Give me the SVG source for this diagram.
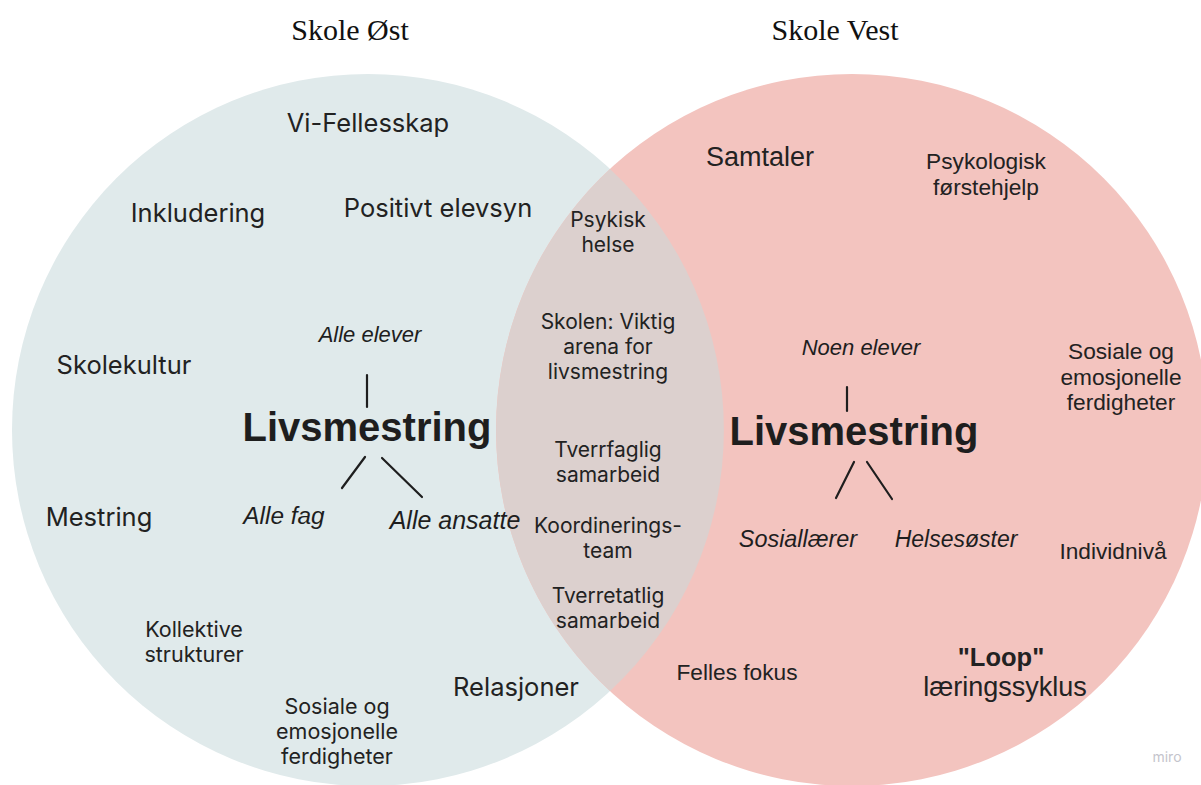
<svg xmlns="http://www.w3.org/2000/svg" width="1201" height="785" viewBox="0 0 1201 785">
<style>
.t{font-family:"Liberation Sans",Arial,sans-serif;fill:#222;text-anchor:middle}
.i{font-family:Inter,"Liberation Sans",sans-serif;fill:#222;text-anchor:middle}
.h{font-family:"Liberation Sans",Arial,sans-serif;font-style:italic;fill:#1e1e1e;text-anchor:middle;font-size:22px}
.b{font-family:"Liberation Sans",Arial,sans-serif;font-weight:bold;fill:#1e1e1e;text-anchor:middle;font-size:40px}
.ttl{font-family:"Liberation Serif","Times New Roman",serif;fill:#111;text-anchor:middle;font-size:30px}
.s25{font-size:25.5px}.s21{font-size:21px}.s215{font-size:21.5px}.r23{font-size:22.7px}.r27{font-size:27px}
.ln{stroke:#1e1e1e;stroke-width:2.2;fill:none;stroke-linecap:round}
</style>
<rect width="1201" height="785" fill="#fff"/>
<g id="circles">
<circle id="ost" cx="368" cy="430" r="356" fill="#e0eaeb"/>
<circle id="vest" cx="852" cy="430" r="356" fill="#f3c4bf"/>
<path id="overlap" d="M610,169 A356,356 0 0 1 610,691 A356,356 0 0 1 610,169 Z" fill="#dcd0ce"/>
</g>
<g id="titles">
<text class="ttl" x="350" y="40">Skole Øst</text>
<text class="ttl" x="835" y="40">Skole Vest</text>
</g>
<g id="ost-words">
<text class="i s25" x="368" y="132">Vi-Fellesskap</text>
<text class="i s25" x="198" y="222">Inkludering</text>
<text class="i s25" x="438" y="217">Positivt elevsyn</text>
<text class="i s25" x="124" y="374">Skolekultur</text>
<text class="i s25" x="99" y="526">Mestring</text>
<text class="i s215" x="194" y="637">Kollektive</text>
<text class="i s215" x="194" y="662">strukturer</text>
<text class="i s215" x="337" y="714">Sosiale og</text>
<text class="i s215" x="337" y="739">emosjonelle</text>
<text class="i s215" x="337" y="764">ferdigheter</text>
<text class="i s25" x="516" y="696">Relasjoner</text>
</g>
<g id="ost-center">
<text class="h" x="370" y="342">Alle elever</text>
<text class="b" x="367" y="441">Livsmestring</text>
<text class="h" x="284" y="524" style="font-size:24.4px">Alle fag</text>
<text class="h" x="455" y="529" style="font-size:25px">Alle ansatte</text>
</g>
<g id="overlap-words">
<text class="i s21" x="608" y="227">Psykisk</text>
<text class="i s21" x="608" y="252">helse</text>
<text class="i s21" x="608" y="329">Skolen: Viktig</text>
<text class="i s21" x="608" y="354">arena for</text>
<text class="i s21" x="608" y="379">livsmestring</text>
<text class="i s21" x="608" y="457">Tverrfaglig</text>
<text class="i s21" x="608" y="482">samarbeid</text>
<text class="i s21" x="608" y="533">Koordinerings-</text>
<text class="i s21" x="608" y="558">team</text>
<text class="i s21" x="608" y="603">Tverretatlig</text>
<text class="i s21" x="608" y="628">samarbeid</text>
</g>
<g id="vest-words">
<text class="t r27" x="760" y="166">Samtaler</text>
<text class="t r23" x="986" y="169">Psykologisk</text>
<text class="t r23" x="986" y="195">førstehjelp</text>
<text class="t r23" x="1121" y="359">Sosiale og</text>
<text class="t r23" x="1121" y="385">emosjonelle</text>
<text class="t r23" x="1121" y="410">ferdigheter</text>
<text class="t r23" x="1113" y="559">Individnivå</text>
<text class="t r23" x="737" y="680">Felles fokus</text>
<text class="t" x="1001" y="666" style="font-size:25.5px;font-weight:bold">"Loop"</text>
<text class="t r27" x="1005" y="696">læringssyklus</text>
</g>
<g id="vest-center">
<text class="h" x="861" y="355">Noen elever</text>
<text class="b" x="854" y="445">Livsmestring</text>
<text class="h" x="798" y="547" style="font-size:23.4px">Sosiallærer</text>
<text class="h" x="956" y="547" style="font-size:23px">Helsesøster</text>
</g>
<g id="connectors">
<line class="ln" x1="367" y1="375" x2="367" y2="407"/>
<line class="ln" x1="365" y1="457" x2="342" y2="488"/>
<line class="ln" x1="382" y1="458" x2="422" y2="497"/>
<line class="ln" x1="847" y1="387" x2="847" y2="411"/>
<line class="ln" x1="854" y1="462" x2="836" y2="498"/>
<line class="ln" x1="867" y1="462" x2="892" y2="499"/>
</g>
<text x="1167" y="762" font-family="Inter,'Liberation Sans',sans-serif" font-size="14" fill="#c4c4cc" text-anchor="middle">miro</text>
</svg>
